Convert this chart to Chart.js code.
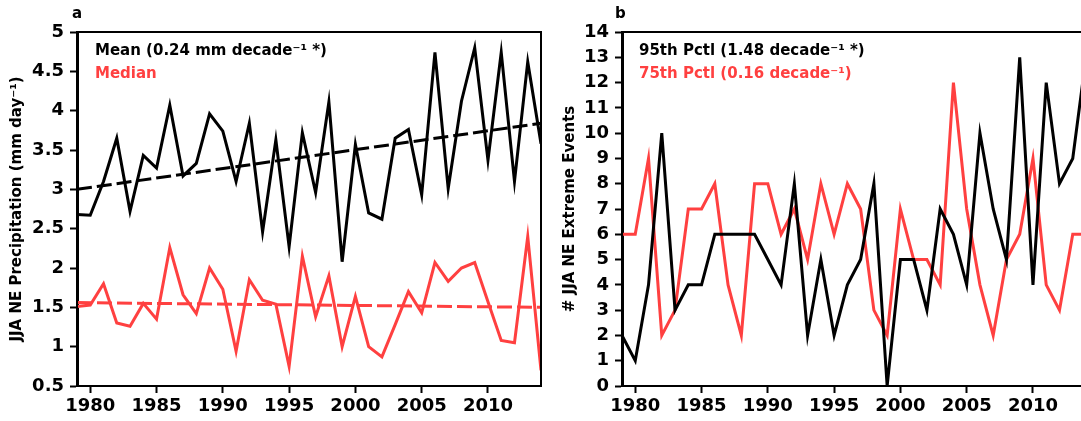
<!DOCTYPE html>
<html>
<head>
<meta charset="utf-8">
<script src="https://cdn.jsdelivr.net/npm/chart.js@4/dist/chart.umd.min.js"></script>
<style>
  body { margin: 0; width: 1081px; height: 421px; overflow: hidden; background: #fff; position: relative; }
  .panel { position: absolute; top: 0; width: 560px; height: 421px; }
  .lbl { position: absolute; font-family: "DejaVu Sans", sans-serif; font-weight: bold; font-size: 15px; white-space: nowrap; line-height: 1; }
</style>
</head>
<body>
<div class="panel" style="left:0"><canvas id="chartA" width="560" height="421"></canvas></div>
<div class="panel" style="left:545px"><canvas id="chartB" width="560" height="421"></canvas></div>

<div class="lbl" style="left:72px; top:6px;">a</div>
<div class="lbl" style="left:95px; top:43px; color:#000;">Mean (0.24 mm decade⁻¹ *)</div>
<div class="lbl" style="left:95px; top:66px; color:#ff4040;">Median</div>

<div class="lbl" style="left:615px; top:6px;">b</div>
<div class="lbl" style="left:639px; top:43px; color:#000;">95th Pctl (1.48 decade⁻¹ *)</div>
<div class="lbl" style="left:639px; top:66px; color:#ff4040;">75th Pctl (0.16 decade⁻¹)</div>

<script>
// Data
const years = [1979, 1980, 1981, 1982, 1983, 1984, 1985, 1986, 1987, 1988, 1989, 1990,
  1991, 1992, 1993, 1994, 1995, 1996, 1997, 1998, 1999, 2000, 2001, 2002,
  2003, 2004, 2005, 2006, 2007, 2008, 2009, 2010, 2011, 2012, 2013, 2014];

const meanPrecip = [2.68, 2.67, 3.1, 3.65, 2.72, 3.43, 3.27, 4.07, 3.17, 3.33, 3.96, 3.74,
  3.1, 3.84, 2.46, 3.63, 2.27, 3.72, 2.96, 4.11, 2.08, 3.57, 2.7, 2.62,
  3.65, 3.76, 2.93, 4.74, 3.01, 4.12, 4.8, 3.37, 4.74, 3.1, 4.62, 3.58];

const medianPrecip = [1.51, 1.53, 1.8, 1.3, 1.26, 1.55, 1.35, 2.26, 1.66, 1.42, 2.0, 1.73,
  0.94, 1.85, 1.59, 1.54, 0.75, 2.15, 1.38, 1.9, 1.0, 1.64, 1.0, 0.87,
  1.28, 1.7, 1.43, 2.07, 1.83, 2.0, 2.07, 1.57, 1.08, 1.05, 2.4, 0.7];

// trend lines, endpoints
const trendYears = [1979, 2014];
const meanTrend = [3.0, 3.84];
const medianTrend = [1.56, 1.5];

const pctl95 = [2, 1, 4, 10, 3, 4, 4, 6, 6, 6, 6, 5,
  4, 8, 2, 5, 2, 4, 5, 8, 0, 5, 5, 3,
  7, 6, 4, 10, 7, 5, 13, 4, 12, 8, 9, 13];

const pctl75 = [6, 6, 9, 2, 3, 7, 7, 8, 4, 2, 8, 8,
  6, 7, 5, 8, 6, 8, 7, 3, 2, 7, 5, 5,
  4, 12, 7, 4, 2, 5, 6, 9, 4, 3, 6, 6];

const yearTicks = [1980, 1985, 1990, 1995, 2000, 2005, 2010];
const precipTicks = [0.5, 1, 1.5, 2, 2.5, 3, 3.5, 4, 4.5, 5];
const countTicks = [0, 1, 2, 3, 4, 5, 6, 7, 8, 9, 10, 11, 12, 13, 14];

const RED = '#ff4040';
const tickFont = { family: '"DejaVu Sans", sans-serif', weight: 'bold', size: 18 };

const frame = {
  id: 'frame',
  afterDraw(chart) {
    const { ctx, chartArea: a } = chart;
    ctx.save();
    ctx.strokeStyle = '#000';
    ctx.lineWidth = 2;
    ctx.strokeRect(a.left, a.top, a.right - a.left, a.bottom - a.top);
    ctx.restore();
  }
};

function pts(xs, ys) {
  return xs.map((x, i) => ({ x: x, y: ys[i] }));
}

function line(data, color, dashed) {
  return {
    data: data,
    borderColor: color,
    borderWidth: 3,
    borderDash: dashed ? [15, 5] : [],
    pointRadius: 0,
    tension: 0,
    fill: false
  };
}

function makeChart(id, datasets, yTicks, yMin, yMax, yTitle, titlePad) {
  new Chart(document.getElementById(id), {
    type: 'line',
    data: { datasets: datasets },
    plugins: [frame],
    options: {
      responsive: false,
      animation: false,
      layout: { padding: { left: 0, top: 32, right: 19, bottom: 0 } },
      plugins: { legend: { display: false }, tooltip: { enabled: false } },
      scales: {
        x: {
          type: 'linear',
          min: 1979,
          max: 2014,
          afterBuildTicks: s => { s.ticks = yearTicks.map(v => ({ value: v })); },
          afterFit: s => { s.height = 35; },
          border: { display: true, color: '#000', width: 2 },
          grid: { drawOnChartArea: false, color: '#000', tickLength: 7, tickWidth: 2 },
          ticks: { color: '#000', font: tickFont, padding: 3, maxRotation: 0, autoSkip: false,
            callback: v => String(v) }
        },
        y: {
          min: yMin,
          max: yMax,
          afterBuildTicks: s => { s.ticks = yTicks.map(v => ({ value: v })); },
          afterFit: s => { s.width = 77; },
          border: { display: true, color: '#000', width: 3 },
          grid: { drawOnChartArea: false, color: '#000', tickLength: 7, tickWidth: 2 },
          ticks: { color: '#000', font: tickFont, padding: 6, autoSkip: false,
            callback: v => String(v) },
          title: {
            display: true,
            text: yTitle,
            color: '#000',
            font: { family: '"DejaVu Sans", sans-serif', weight: 'bold', size: 15, lineHeight: 1.2 },
            padding: { top: titlePad, bottom: 0 }
          }
        }
      }
    }
  });
}

makeChart('chartA', [
  line(pts(trendYears, meanTrend), '#000', true),
  line(pts(trendYears, medianTrend), RED, true),
  line(pts(years, meanPrecip), '#000', false),
  line(pts(years, medianPrecip), RED, false)
], precipTicks, 0.5, 5, 'JJA NE Precipitation (mm day⁻¹)', 8);

makeChart('chartB', [
  line(pts(years, pctl95), '#000', false),
  line(pts(years, pctl75), RED, false)
], countTicks, 0, 14, '# JJA NE Extreme Events', 16);
</script>
</body>
</html>
